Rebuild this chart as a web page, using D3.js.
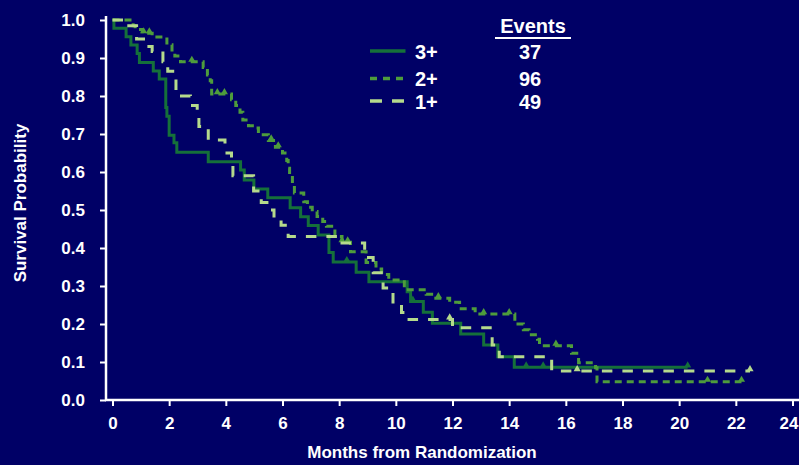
<!DOCTYPE html>
<html>
<head>
<meta charset="utf-8">
<script src="https://cdn.jsdelivr.net/npm/d3@7/dist/d3.min.js"></script>
<style>
  html, body { margin: 0; padding: 0; background: #000066; }
  svg { display: block; }
  text { font-family: "Liberation Sans", Arial, sans-serif; font-weight: bold; fill: #ffffff; }
</style>
</head>
<body>
<div id="chart"></div>
<script>
// ---------- data ----------
const xTickValues = [0, 2, 4, 6, 8, 10, 12, 14, 16, 18, 20, 22, 24];
const yTickValues = [0, 0.1, 0.2, 0.3, 0.4, 0.5, 0.6, 0.7, 0.8, 0.9, 1.0];

const seriesNames = ["3+", "2+", "1+"];
const seriesEvents = [37, 96, 49];

// 3+ (solid)
const times3 = [0, 0.05, 0.48, 0.65, 0.87, 0.95, 1.44, 1.65, 1.88, 1.92, 2.0, 2.17, 2.27, 3.38, 4.52, 4.65, 4.99, 5.48, 6.27, 6.64, 6.91, 7.26, 7.64, 7.79, 8.6, 9.05, 10.4, 10.52, 10.97, 11.29, 12.29, 13.1, 13.6, 14.18, 20.3];
const surv3 = [1.0, 0.978, 0.956, 0.934, 0.912, 0.888, 0.866, 0.845, 0.77, 0.747, 0.697, 0.677, 0.652, 0.627, 0.605, 0.579, 0.555, 0.532, 0.506, 0.482, 0.459, 0.434, 0.388, 0.363, 0.336, 0.311, 0.285, 0.259, 0.231, 0.202, 0.174, 0.145, 0.114, 0.086, 0.086];
const censor3 = [8.27, 10.6, 14.6, 15.2, 20.3];

// 2+ (short dash)
const times2 = [0, 0.73, 0.8, 1.05, 1.4, 1.92, 2.1, 2.2, 2.4, 3.2, 3.35, 3.45, 3.5, 4.2, 4.35, 4.5, 4.6, 4.8, 5.0, 5.15, 5.5, 5.75, 6.0, 6.15, 6.2, 6.25, 6.35, 6.42, 6.75, 6.88, 7.05, 7.22, 7.42, 7.55, 7.85, 8.1, 8.4, 8.95, 9.3, 9.5, 9.75, 10.3, 11.07, 11.35, 11.9, 12.25, 12.8, 14.2, 14.5, 14.7, 15.0, 15.07, 16.2, 16.45, 17.05, 17.1, 22.2];
const surv2 = [1.0, 0.985, 0.975, 0.965, 0.955, 0.935, 0.915, 0.905, 0.89, 0.875, 0.855, 0.84, 0.805, 0.79, 0.775, 0.757, 0.737, 0.722, 0.716, 0.698, 0.683, 0.665, 0.65, 0.63, 0.61, 0.59, 0.57, 0.545, 0.522, 0.507, 0.496, 0.483, 0.47, 0.457, 0.43, 0.415, 0.39, 0.362, 0.345, 0.33, 0.316, 0.29, 0.278, 0.268, 0.257, 0.24, 0.226, 0.2, 0.185, 0.172, 0.16, 0.143, 0.123, 0.098, 0.085, 0.048, 0.048];
const censor2 = [1.1, 1.3, 2.8, 3.7, 3.95, 5.6, 5.85, 8.1, 8.3, 11.5, 13.1, 14.0, 15.65, 21.0, 22.2];

// 1+ (long dash)
const times1 = [0, 0.4, 0.85, 1.15, 1.4, 1.78, 1.95, 2.24, 2.75, 2.99, 3.05, 3.38, 3.97, 4.2, 4.25, 4.98, 5.25, 5.45, 5.7, 5.95, 6.2, 8.1, 8.9, 9.2, 9.55, 9.9, 10.2, 10.35, 12.0, 13.4, 13.65, 15.5, 22.5];
const surv1 = [1.0, 0.985, 0.95, 0.93, 0.917, 0.89, 0.865, 0.80, 0.775, 0.75, 0.72, 0.684, 0.65, 0.625, 0.59, 0.55, 0.52, 0.50, 0.48, 0.46, 0.43, 0.413, 0.375, 0.335, 0.295, 0.25, 0.23, 0.212, 0.19, 0.145, 0.114, 0.076, 0.076];
const censor1 = [11.9, 16.4, 22.5];

// ---------- styles ----------
const colors = ["#15703a", "#4e9c3c", "#b5da8c"];
const dashes = [null, "7,5", "10.5,10"];

// ---------- layout ----------
const W = 799, H = 465;
const svg = d3.select("#chart").append("svg").attr("width", W).attr("height", H);
svg.append("rect").attr("width", W).attr("height", H).attr("fill", "#000066");

const x = d3.scaleLinear().domain([0, 24]).range([112.5, 792.5]);
const y = d3.scaleLinear().domain([0, 1]).range([400, 20]);
const axisX0 = 106;

// axes
const gy = svg.append("g").attr("transform", `translate(${axisX0},0)`)
  .call(d3.axisLeft(y).tickValues(yTickValues).tickFormat(d3.format(".1f")).tickSize(6).tickPadding(15));
gy.select(".domain").remove();
gy.selectAll(".tick line").attr("stroke", "#fff").attr("stroke-width", 2);
gy.selectAll(".tick text").attr("font-size", 17).attr("fill", "#fff").attr("font-family", "Liberation Sans, Arial, sans-serif");

const gx = svg.append("g").attr("transform", `translate(0,${y(0)})`)
  .call(d3.axisBottom(x).tickValues(xTickValues).tickFormat(d3.format("d")).tickSize(6).tickPadding(11));
gx.select(".domain").remove();
gx.selectAll(".tick line").attr("stroke", "#fff").attr("stroke-width", 2);
gx.selectAll(".tick text").attr("font-size", 17).attr("fill", "#fff").attr("font-family", "Liberation Sans, Arial, sans-serif");
// keep the last label inside the picture
gx.selectAll(".tick text").filter(d => d === 24).attr("text-anchor", "end").attr("x", W - x(24) - 1);

svg.append("line").attr("x1", axisX0).attr("x2", axisX0).attr("y1", y(1) - 4).attr("y2", y(0) + 1)
  .attr("stroke", "#fff").attr("stroke-width", 2.5);
svg.append("line").attr("x1", axisX0 - 1).attr("x2", W).attr("y1", y(0)).attr("y2", y(0))
  .attr("stroke", "#fff").attr("stroke-width", 2.5);

// titles
svg.append("text").attr("x", 422).attr("y", 458).attr("text-anchor", "middle")
  .attr("font-size", 17).text("Months from Randomization");
svg.append("text").attr("transform", "translate(26,203) rotate(-90)").attr("text-anchor", "middle")
  .attr("font-size", 17).text("Survival Probability");

// curves
const line = d3.line().x(d => x(d[0])).y(d => y(d[1])).curve(d3.curveStepAfter);
const seriesData = [
  { times: times3, surv: surv3, censor: censor3 },
  { times: times2, surv: surv2, censor: censor2 },
  { times: times1, surv: surv1, censor: censor1 }
];
function survAt(s, t) {
  const i = d3.bisectRight(s.times, t) - 1;
  return s.surv[Math.max(0, i)];
}
const tri = d3.symbol().type(d3.symbolTriangle).size(22);
seriesData.forEach((s, i) => {
  const pts = s.times.map((t, k) => [t, s.surv[k]]);
  svg.append("path").datum(pts).attr("d", line)
    .attr("fill", "none").attr("stroke", colors[i]).attr("stroke-width", 3)
    .attr("stroke-dasharray", dashes[i]);
  svg.selectAll(null).data(s.censor).enter().append("path")
    .attr("d", tri)
    .attr("transform", t => `translate(${x(t)},${y(survAt(s, t)) - 2})`)
    .attr("fill", colors[i]);
});

// legend
const lgX = 370, lgLen = 35.5, lgRows = [51, 78.5, 101];
seriesNames.forEach((name, i) => {
  svg.append("line").attr("x1", lgX).attr("x2", lgX + lgLen).attr("y1", lgRows[i]).attr("y2", lgRows[i])
    .attr("stroke", colors[i]).attr("stroke-width", 3.5)
    .attr("stroke-dasharray", i === 1 ? "7,6" : (i === 2 ? "12,10" : null));
  svg.append("text").attr("x", 415).attr("y", lgRows[i] + 7.5).attr("font-size", 20).text(name);
  svg.append("text").attr("x", 530).attr("y", lgRows[i] + 7.5).attr("text-anchor", "middle")
    .attr("font-size", 20).text(seriesEvents[i]);
});
svg.append("text").attr("x", 533).attr("y", 33).attr("text-anchor", "middle").attr("font-size", 20).text("Events");
svg.append("line").attr("x1", 495).attr("x2", 571).attr("y1", 38).attr("y2", 38)
  .attr("stroke", "#fff").attr("stroke-width", 2);
</script>
</body>
</html>
